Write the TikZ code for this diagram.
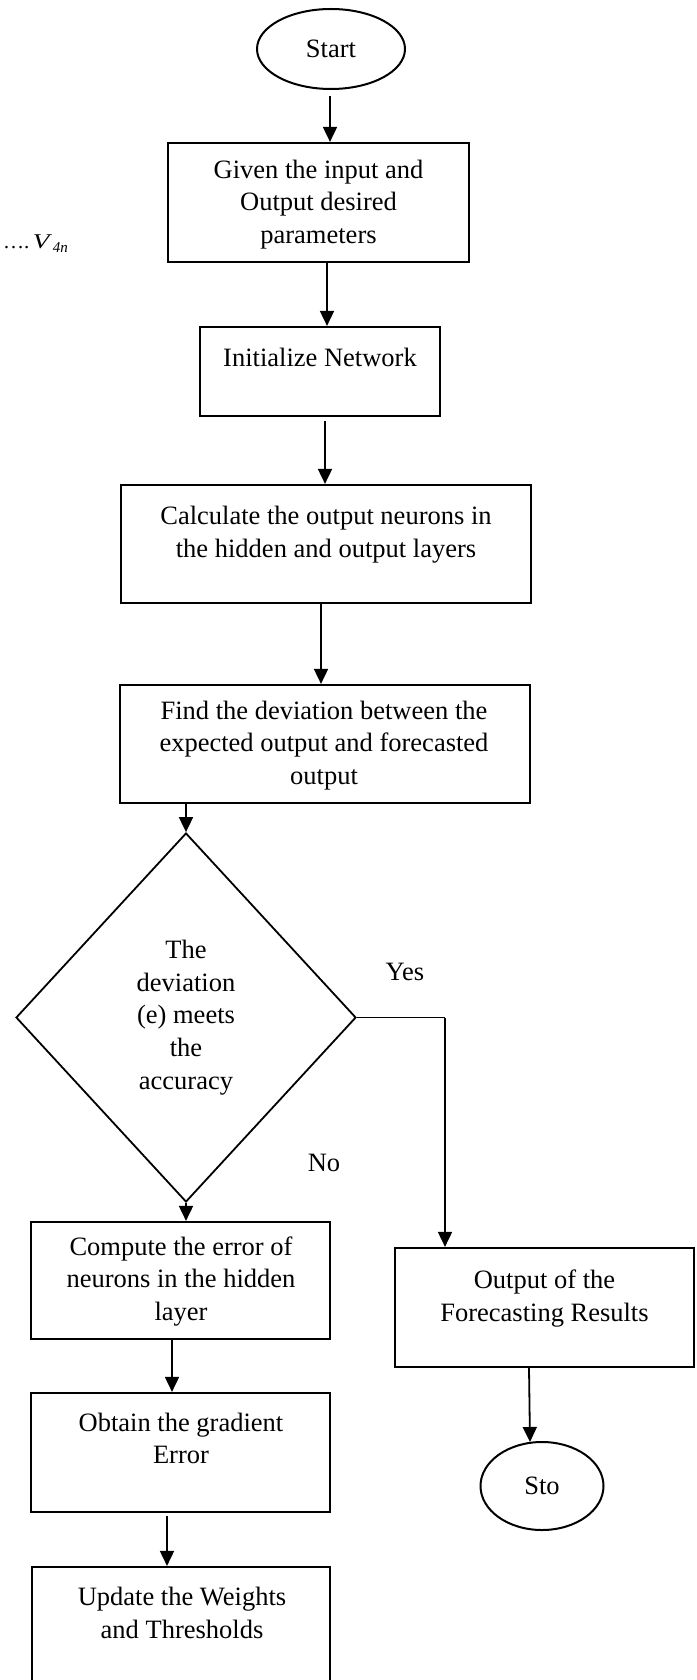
\documentclass[tikz,border=0pt]{standalone}
\usepackage{fontspec}
\setmainfont{Liberation Serif}
\usetikzlibrary{shapes.geometric,arrows.meta,calc}
\begin{document}
\begin{tikzpicture}[x=1pt,y=-1pt,
  box/.style={draw,rectangle,line width=2.2pt,inner sep=0pt},
  oval/.style={draw,ellipse,line width=2pt,inner sep=0pt,
    font=\fontsize{26.5}{32.8}\selectfont},
  decision/.style={draw,diamond,line width=1.8pt,inner sep=0pt,align=center,
    font=\fontsize{26.5}{32.8}\selectfont},
  txt/.style={font=\fontsize{26.5}{32.8}\selectfont,align=center,inner sep=0pt},
  arr/.style={line width=1.8pt,-{Triangle[length=15pt,width=14pt]}},
  thinline/.style={line width=1.2pt}]
\useasboundingbox (0,0) rectangle (696,1680);
\clip (0,0) rectangle (696,1680);

% terminals
\node[oval,minimum width=148pt,minimum height=80pt] (start) at (331,49) {Start};
\node[oval,minimum width=123pt,minimum height=88pt] (sto) at (542,1486) {Sto};

% process boxes
\node[box,minimum width=301pt,minimum height=119pt] (b1) at (318.5,202.5) {};
\node[box,minimum width=240pt,minimum height=89pt]  (b2) at (320,371.5) {};
\node[box,minimum width=410pt,minimum height=118pt] (b3) at (326,544) {};
\node[box,minimum width=410pt,minimum height=118pt] (b4) at (325,744) {};
\node[box,minimum width=299pt,minimum height=117pt] (b5) at (180.5,1280.5) {};
\node[box,minimum width=299pt,minimum height=119pt] (b6) at (180.5,1452.5) {};
\node[box,minimum width=298pt,minimum height=133pt] (b7) at (181,1633.5) {};
\node[box,minimum width=299pt,minimum height=119pt] (b8) at (544.5,1307.5) {};

% box texts
\node[txt] (t1) at (318.5,204.5) {Given the input and\\Output desired\\parameters};
\node[txt] (t2) at (320,357) {Initialize Network};
\node[txt] (t3) at (326,534.5) {Calculate the output neurons in\\the hidden and output layers};
\node[txt] (t4) at (324,745.5) {Find the deviation between the\\expected output and forecasted\\output};
\node[txt] (t5) at (181,1281.5) {Compute the error of\\neurons in the hidden\\layer};
\node[txt] (t6) at (181,1438.5) {Obtain the gradient\\Error};
\node[txt] (t7) at (182,1613) {Update the Weights\\and Thresholds};
\node[txt] (t8) at (544.5,1298.5) {Output of the\\Forecasting Results};

% decision
\node[decision,minimum width=340pt,minimum height=369pt] (dia) at (186,1017.5)
  {The\\deviation\\(e) meets\\the\\accuracy};

% branch labels
\node[txt] (yes) at (405,972) {Yes};
\node[txt] (no) at (324,1163) {No};

% side note
\node[inner sep=0pt,anchor=base east,font=\fontsize{21}{24}\selectfont] (vnote) at (68,248)
  {\ldots.\,\scalebox{1.3}[1]{\textit{V}}\kern0.5pt\raisebox{-5pt}{\fontsize{15}{16}\selectfont\textit{4n}}};

% connectors
\draw[arr] ($(start.south)+(-1,6)$) -- ($(b1.north)+(11.5,0)$);
\draw[arr] ($(b1.south)+(8.5,0)$) -- ($(b2.north)+(7,0)$);
\draw[arr] ($(b2.south)+(5,4)$) -- ($(b3.north)+(-1,0)$);
\draw[arr] ($(b3.south)+(-5,0)$) -- ($(b4.north)+(-4,0)$);
\draw[arr] ($(b4.south)+(-139,0)$) -- (dia.north);
\draw[arr] (dia.south) -- ($(b5.north)+(5.5,0)$);
\draw[arr] ($(b5.south)+(-8.5,0)$) -- ($(b6.north)+(-8.5,0)$);
\draw[arr] ($(b6.south)+(-13.5,3)$) -- ($(b7.north)+(-14,0)$);
\coordinate (ycorner) at (445,1017.5);
\draw[thinline] (dia.east) -- (ycorner);
\draw[arr] (ycorner) -- ($(b8.north)+(-99.5,0)$);
\draw[arr] ($(b8.south)+(-15.5,0)$) -- ($(sto.north)+(-12,1)$);
\end{tikzpicture}
\end{document}
